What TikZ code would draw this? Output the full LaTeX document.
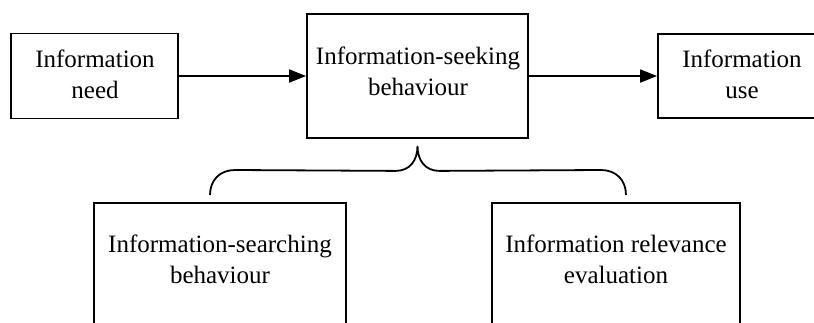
\documentclass[tikz,border=0pt]{standalone}
\usepackage{fontspec}
\setmainfont{Liberation Serif}
\usetikzlibrary{arrows.meta,calc}
\begin{document}
\begin{tikzpicture}[x=1pt,y=-1pt,
  box/.style={draw=black,line width=1.8pt,rectangle,inner sep=0pt,align=center,
    font=\fontsize{25}{31}\selectfont},
  txt/.style={inner sep=0pt,align=center,font=\fontsize{25}{31}\selectfont},
  arr/.style={line width=1.8pt,-{Triangle[length=17pt,width=13pt]}},
  brace/.style={line width=1.8pt}]
\useasboundingbox (0,0) rectangle (814,322);
\clip (0,0) rectangle (814,322);
\fill[white] (0,0) rectangle (814,322);
% top row
\node[box,minimum width=167pt,minimum height=85pt] (need) at (94.5,76) {};
\node[txt] (needtxt) at (95,74) {Information\\need};
\node[box,minimum width=221pt,minimum height=124pt] (seek) at (417.5,76) {};
\node[txt] (seektxt) at (418,71) {Information-seeking\\behaviour};
\node[box,minimum width=168pt,minimum height=84pt] (use) at (742,76) {};
\node[txt] (usetxt) at (742,74) {Information\\use};
% bottom row
\node[box,minimum width=252pt,minimum height=140pt,anchor=north] (search) at (220,202) {};
\node[txt] (searchtxt) at (220,259) {Information-searching\\behaviour};
\node[box,minimum width=248pt,minimum height=140pt,anchor=north] (relev) at (616,202) {};
\node[txt] (relevtxt) at (616,259) {Information relevance\\evaluation};
% arrows
\draw[arr] (need.east) -- (seek.west);
\draw[arr] (seek.east) -- (use.west);
% brace
\coordinate (tip) at ([yshift=-7pt]seek.south);
\coordinate (bl) at ($(search.north)+(-10,-7)$);
\coordinate (br) at ($(relev.north)+(10,-7)$);
\draw[brace] (bl) .. controls ($(bl)+(0,-15)$) and ($(bl)+(10,-25)$) .. ($(bl)+(25,-25)$)
  -- ($(tip)+(-22,25)$) .. controls ($(tip)+(-8,25)$) and ($(tip)+(0,15)$) .. (tip)
  .. controls ($(tip)+(0,15)$) and ($(tip)+(8,25)$) .. ($(tip)+(22,25)$)
  -- ($(br)+(-25,-25)$) .. controls ($(br)+(-10,-25)$) and ($(br)+(0,-15)$) .. (br);
\end{tikzpicture}
\end{document}
